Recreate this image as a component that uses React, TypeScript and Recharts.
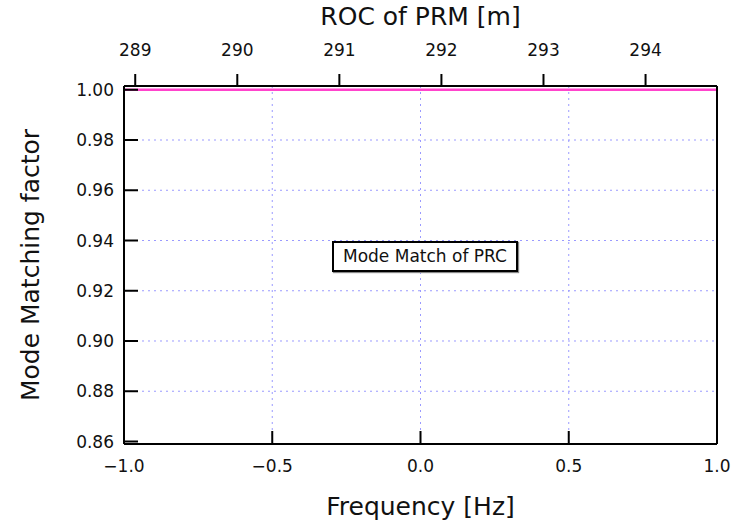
import React from 'react';
import { LineChart, Line, XAxis, YAxis, CartesianGrid } from 'recharts';

// frequency [Hz] and mode matching factor of the PRC
const freq = [-1.0, -0.5, 0.0, 0.5, 1.0];
const modeMatch = [0.99998, 0.99998, 0.99998, 0.99998, 0.99998];
const freqTicks = [-1.0, -0.5, 0.0, 0.5, 1.0];
const mmTicks = [0.86, 0.88, 0.9, 0.92, 0.94, 0.96, 0.98, 1.0];
// ROC of PRM shown on the top axis, and the span it covers
const rocTicks = [289, 290, 291, 292, 293, 294];
const rocRange = [288.89, 294.7];

const data = freq.map((f, i) => ({ freq: f, mm: modeMatch[i] }));
const rocData = rocRange.map((r) => ({ roc: r }));

const FONT = '"DejaVu Sans", sans-serif';
const fmtFreq = (v: number) => (v < 0 ? '\u2212' + Math.abs(v).toFixed(1) : v.toFixed(1));
const axisStyle = { stroke: '#000', strokeWidth: 2 };
const tickStyle = { fill: '#111', fontSize: 17, fontFamily: FONT };
const titleStyle = { fill: '#111', fontSize: 25, fontFamily: FONT };

export default function App() {
  return (
    <div style={{ position: 'absolute', left: 0, top: 0, width: 733, height: 522, background: '#fff' }}>
      <LineChart width={733} height={522} data={data} margin={{ top: 0, right: 0, bottom: 0, left: 0 }}>
        <CartesianGrid
          stroke="#9a9aff"
          strokeDasharray="2 4"
          verticalValues={[-0.5, 0, 0.5]}
          horizontalValues={[0.88, 0.9, 0.92, 0.94, 0.96, 0.98]}
        />
        <XAxis
          dataKey="freq"
          type="number"
          domain={[-1, 1]}
          ticks={freqTicks}
          interval={0}
          tickFormatter={fmtFreq}
          height={78}
          axisLine={axisStyle}
          tickLine={axisStyle}
          tickSize={-13}
          tickMargin={29}
          tick={tickStyle}
          label={{ value: 'Frequency [Hz]', position: 'insideBottom', offset: 7, ...titleStyle }}
        />
        <XAxis
          xAxisId="top"
          dataKey="roc"
          orientation="top"
          type="number"
          domain={rocRange}
          allowDataOverflow
          ticks={rocTicks}
          interval={0}
          height={86}
          axisLine={axisStyle}
          tickLine={axisStyle}
          tickSize={12}
          tickMargin={18}
          tick={tickStyle}
          label={{ value: 'ROC of PRM [m]', position: 'insideTop', offset: 7, ...titleStyle }}
        />
        <YAxis
          type="number"
          domain={[0.859, 1.0015]}
          allowDataOverflow
          ticks={mmTicks}
          interval={0}
          tickFormatter={(v: number) => v.toFixed(2)}
          width={124}
          axisLine={axisStyle}
          tickLine={axisStyle}
          tickSize={-14}
          tickMargin={24}
          tick={tickStyle}
          label={{ value: 'Mode Matching factor', angle: -90, position: 'insideLeft', offset: 30, ...titleStyle, style: { textAnchor: 'middle' } }}
        />
        <YAxis
          yAxisId="right"
          orientation="right"
          type="number"
          domain={[0.859, 1.0015]}
          allowDataOverflow
          ticks={mmTicks}
          interval={0}
          width={16}
          tick={false}
          axisLine={axisStyle}
          tickLine={axisStyle}
          tickSize={-14}
        />
        <Line
          dataKey="mm"
          stroke="#ff44cc"
          strokeWidth={2.5}
          dot={false}
          isAnimationActive={false}
        />
        <Line
          data={rocData}
          xAxisId="top"
          yAxisId="right"
          dataKey="mm"
          stroke="none"
          dot={false}
          legendType="none"
          isAnimationActive={false}
        />
      </LineChart>
      <div
        style={{
          position: 'absolute',
          left: 332,
          top: 241,
          border: '2px solid #000',
          boxShadow: '1px 1px 1px #888',
          background: '#fff',
          fontFamily: FONT,
          fontSize: 17,
          lineHeight: '21px',
          color: '#111',
          padding: '3px 9px',
          whiteSpace: 'nowrap',
        }}
      >
        Mode Match of PRC
      </div>
    </div>
  );
}
